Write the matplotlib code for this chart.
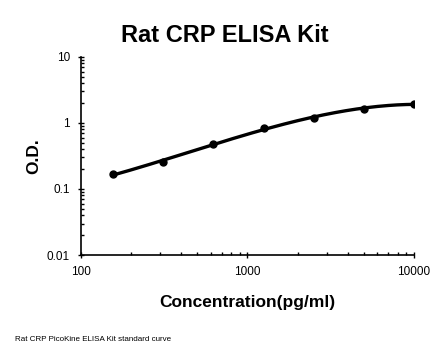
import numpy as np
import matplotlib
matplotlib.use("Agg")
from matplotlib import pyplot as plt
from matplotlib.ticker import FixedLocator, FixedFormatter, LogLocator, NullFormatter

plt.rcParams['font.family'] = ['Liberation Sans', 'DejaVu Sans']

# standard curve values
conc = [156.25, 312.5, 625, 1250, 2500, 5000, 10000]
od = [0.167, 0.256, 0.486, 0.83, 1.20, 1.65, 1.94]
xticks = [100, 1000, 10000]
xtick_labels = ["100", "1000", "10000"]
yticks = [0.01, 0.1, 1, 10]
ytick_labels = ["0.01", "0.1", "1", "10"]

fig = plt.figure(figsize=(4.46, 3.56), dpi=100)
ax = fig.add_axes([0.1816, 0.2837, 0.7464, 0.5563])

# smooth fitted curve in log-log space
lx = np.log10(conc)
ly = np.log10(od)
coef = np.polyfit(lx, ly, 3)
xs = np.linspace(lx[0], lx[-1], 200)
ax.plot(10 ** xs, 10 ** np.polyval(coef, xs), color='black', lw=2.4, zorder=2)
ax.plot(conc, od, 'o', color='black', ms=5, zorder=3)

ax.set_xscale('log')
ax.set_yscale('log')
ax.set_xlim(100, 10000)
ax.set_ylim(0.01, 10)

ax.xaxis.set_major_locator(FixedLocator(xticks))
ax.xaxis.set_major_formatter(FixedFormatter(xtick_labels))
ax.yaxis.set_major_locator(FixedLocator(yticks))
ax.yaxis.set_major_formatter(FixedFormatter(ytick_labels))
ax.xaxis.set_minor_locator(LogLocator(base=10, subs=np.arange(2, 10)))
ax.yaxis.set_minor_locator(LogLocator(base=10, subs=np.arange(2, 10)))
ax.xaxis.set_minor_formatter(NullFormatter())
ax.yaxis.set_minor_formatter(NullFormatter())

ax.tick_params(which='major', direction='inout', length=4, width=1, labelsize=8.5, pad=6)
ax.tick_params(which='minor', direction='in', length=2.5, width=1)

for s in ['top', 'right']:
    ax.spines[s].set_visible(False)
for s in ['left', 'bottom']:
    ax.spines[s].set_linewidth(1.2)

ax.set_xlabel("Concentration(pg/ml)", fontsize=12.5, fontweight='bold', labelpad=12)
ax.set_ylabel("O.D.", fontsize=12.5, fontweight='bold', labelpad=4)

fig.text(0.505, 0.9, "Rat CRP ELISA Kit", ha='center', va='center', fontsize=17, fontweight='bold')
fig.text(0.034, 0.045, "Rat CRP PicoKine ELISA Kit standard curve", ha='left', va='center', fontsize=5.8)

fig.savefig("out.png", dpi=100)
